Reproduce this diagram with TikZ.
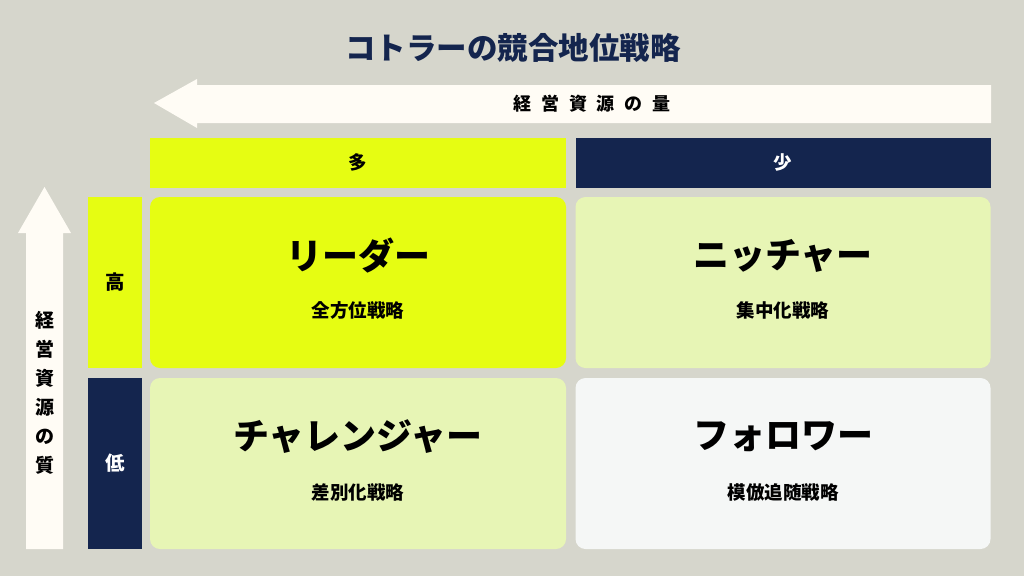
\documentclass[tikz,border=0pt]{standalone}
\usepackage{fontspec}
\setmainfont{Noto Sans CJK JP}
\definecolor{bgc}{HTML}{D6D6CC}
\definecolor{arrowc}{HTML}{FFFCF5}
\definecolor{lime}{HTML}{E6FD12}
\definecolor{navy}{HTML}{14254E}
\definecolor{paleg}{HTML}{E7F5B5}
\definecolor{offw}{HTML}{F5F7F6}
\begin{document}
\begin{tikzpicture}[x=1pt,y=-1pt,
  cell/.style={rectangle,inner sep=0pt,outer sep=0pt},
  quad/.style={cell,rounded corners=10pt,minimum width=416pt,minimum height=171pt},
  colhead/.style={cell,minimum width=416pt,minimum height=50pt,font=\fontsize{18.5}{20}\selectfont\bfseries},
  rowhead/.style={cell,minimum width=54pt,minimum height=171pt,font=\fontsize{19.5}{20}\selectfont\bfseries},
  biglabel/.style={font=\fontsize{36}{40}\selectfont\bfseries,text=black,inner sep=0pt},
  sublabel/.style={font=\fontsize{18.5}{20}\selectfont\bfseries,text=black,inner sep=0pt},
  arrowshape/.style={fill=arrowc,draw=none}]
\fill[bgc] (0,0) rectangle (1024,576);
\useasboundingbox (0,0) rectangle (1024,576);
% title
\node[font=\fontsize{30.5}{34}\selectfont\bfseries,text=navy,inner sep=0pt] (title) at (513,48) {コトラーの競合地位戦略};
% top arrow
\path[arrowshape] (154,103)--(197,79)--(197,85)--(991,85)--(991,123)--(197,123)--(197,128)--cycle;
\node[font=\fontsize{18}{20}\selectfont\bfseries\addfontfeatures{LetterSpace=55},inner sep=0pt] (qty) at (592,104) {経営資源の量};
% left arrow
\path[arrowshape] (44.5,187)--(71,233)--(63,233)--(63,549)--(26,549)--(26,233)--(18,233)--cycle;
\node[font=\fontsize{19}{29}\selectfont\bfseries,align=center,inner sep=0pt] (qual) at (45,393) {経\\営\\資\\源\\の\\質};
% column headers
\node[colhead,fill=lime,text=black] (many) at (358,162.5) {多};
\node[colhead,fill=navy,text=white,minimum width=415pt] (few) at (783,162.5) {少};
% row headers
\node[rowhead,fill=lime,text=black] (high) at (115,282.5) {高};
\node[rowhead,fill=navy,text=white] (low) at (115,463.5) {低};
% quadrants
\node[quad,fill=lime] (tl) at (358,282.5) {};
\node[quad,fill=paleg,minimum width=415pt] (tr) at (783,282.5) {};
\node[quad,fill=paleg] (bl) at (358,463.5) {};
\node[quad,fill=offw,minimum width=415pt] (br) at (783,463.5) {};
% labels
\node[biglabel] (leader) at (358,256) {リーダー};
\node[sublabel] (leaders) at (358,310) {全方位戦略};
\node[biglabel] (nicher) at (783,256) {ニッチャー};
\node[sublabel] (nichers) at (783,310) {集中化戦略};
\node[biglabel] (chall) at (358,437) {チャレンジャー};
\node[sublabel] (challs) at (358,492) {差別化戦略};
\node[biglabel] (follow) at (783,437) {フォロワー};
\node[sublabel] (follows) at (783,492) {模倣追随戦略};
\end{tikzpicture}
\end{document}
